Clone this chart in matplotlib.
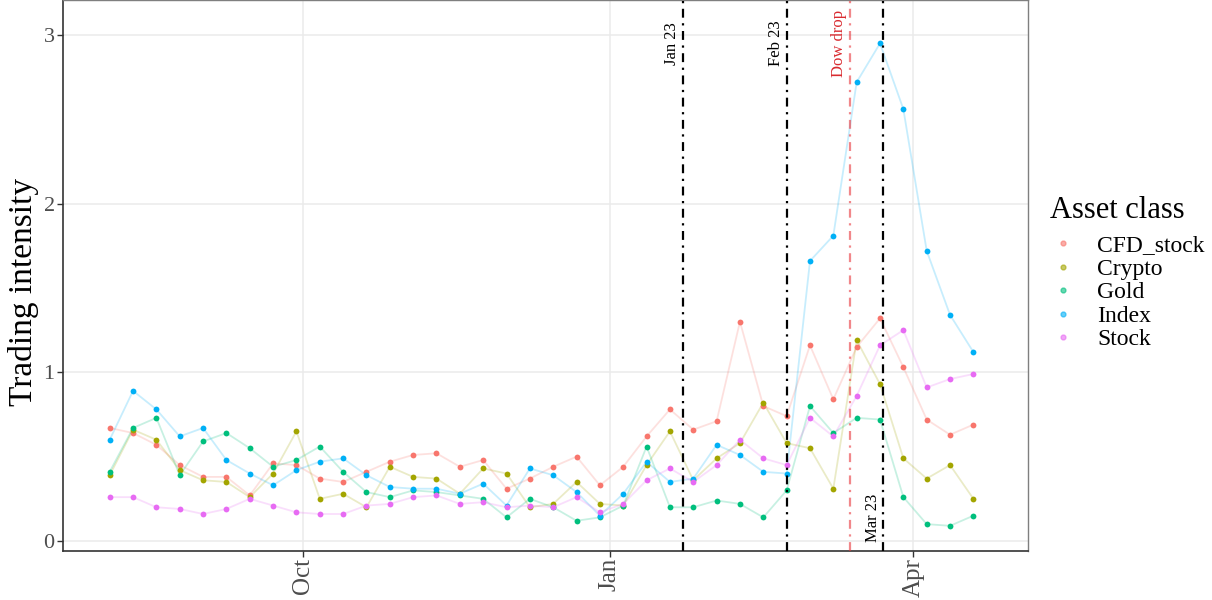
import matplotlib
matplotlib.use("Agg")
import matplotlib.pyplot as plt
from matplotlib.lines import Line2D
import pandas as pd

plt.rcParams['font.family'] = ['Liberation Serif', 'DejaVu Serif']

# ---- data ----
dates = pd.date_range("2019-08-04", periods=38, freq="7D")

cfd_stock = [0.67, 0.64, 0.57, 0.45, 0.38, 0.38, 0.27, 0.46, 0.45, 0.37,
             0.35, 0.41, 0.47, 0.51, 0.52, 0.44, 0.48, 0.31, 0.37, 0.44,
             0.50, 0.33, 0.44, 0.62, 0.78, 0.66, 0.71, 1.30, 0.80, 0.74,
             1.16, 0.84, 1.15, 1.32, 1.03, 0.72, 0.63, 0.69]
crypto = [0.39, 0.66, 0.60, 0.42, 0.36, 0.35, 0.26, 0.40, 0.65, 0.25,
          0.28, 0.20, 0.44, 0.38, 0.37, 0.28, 0.43, 0.40, 0.20, 0.22,
          0.35, 0.22, 0.21, 0.45, 0.65, 0.36, 0.49, 0.58, 0.82, 0.58,
          0.55, 0.31, 1.19, 0.93, 0.49, 0.37, 0.45, 0.25]
gold = [0.41, 0.67, 0.73, 0.39, 0.59, 0.64, 0.55, 0.44, 0.48, 0.56,
        0.41, 0.29, 0.26, 0.30, 0.29, 0.27, 0.25, 0.14, 0.25, 0.20,
        0.12, 0.14, 0.21, 0.56, 0.20, 0.20, 0.24, 0.22, 0.14, 0.30,
        0.80, 0.64, 0.73, 0.72, 0.26, 0.10, 0.09, 0.15]
index = [0.60, 0.89, 0.78, 0.62, 0.67, 0.48, 0.40, 0.33, 0.42, 0.47,
         0.49, 0.39, 0.32, 0.31, 0.31, 0.28, 0.34, 0.21, 0.43, 0.39,
         0.29, 0.15, 0.28, 0.47, 0.35, 0.37, 0.57, 0.51, 0.41, 0.40,
         1.66, 1.81, 2.72, 2.95, 2.56, 1.72, 1.34, 1.12]
stock = [0.26, 0.26, 0.20, 0.19, 0.16, 0.19, 0.25, 0.21, 0.17, 0.16,
         0.16, 0.21, 0.22, 0.26, 0.27, 0.22, 0.23, 0.20, 0.21, 0.20,
         0.26, 0.17, 0.22, 0.36, 0.43, 0.35, 0.45, 0.60, 0.49, 0.45,
         0.73, 0.62, 0.86, 1.16, 1.25, 0.91, 0.96, 0.99]

series_names = ["CFD_stock", "Crypto", "Gold", "Index", "Stock"]
series_values = [cfd_stock, crypto, gold, index, stock]
series_colors = ["#F8766D", "#A3A500", "#00BF7D", "#00B0F6", "#E76BF3"]

event_dates = ["2020-01-23", "2020-02-23", "2020-03-23"]
event_labels = ["Jan 23", "Feb 23", "Mar 23"]
event_label_y = [2.95, 2.95, 0.14]
dow_date = "2020-03-13"
dow_label = "Dow drop"

x_ticks = ["2019-10-01", "2020-01-01", "2020-04-01"]
x_ticklabels = ["Oct", "Jan", "Apr"]
y_ticks = [0, 1, 2, 3]

# ---- figure ----
W, H = 1212, 600
fig = plt.figure(figsize=(W / 100, H / 100), dpi=100)
ax = fig.add_axes([63 / W, (H - 551) / H, (1028 - 63) / W, 551 / H])

for name, vals, col in zip(series_names, series_values, series_colors):
    ax.plot(dates, vals, color=col, alpha=0.22, lw=1.3, zorder=2)
    ax.plot(dates, vals, 'o', color=col, ms=4.2, mew=0, zorder=3)

for d, lab, ly in zip(event_dates, event_labels, event_label_y):
    dt = pd.Timestamp(d)
    ax.axvline(dt, color="black", lw=1.6, ls=(0, (4, 2.5, 1, 2.5)), zorder=4)
    ax.annotate(lab, xy=(dt, ly), xytext=(-2, 0), textcoords="offset points",
                rotation=90, ha="right", va="center", fontsize=12, color="black")

dt = pd.Timestamp(dow_date)
ax.axvline(dt, color="#E8373C", alpha=0.6, lw=1.6, ls=(0, (4, 2.5, 1, 2.5)), zorder=4)
ax.annotate(dow_label, xy=(dt, 2.95), xytext=(-2, 0), textcoords="offset points",
            rotation=90, ha="right", va="center", fontsize=12, color="#D92B30")

ax.set_xlim(pd.Timestamp("2019-07-21"), pd.Timestamp("2020-05-05 09:00"))
ax.set_ylim(-0.0593, 3.207)

ax.set_xticks([pd.Timestamp(t) for t in x_ticks])
ax.set_xticklabels(x_ticklabels, rotation=90, fontsize=18, color="#4D4D4D")
ax.set_yticks(y_ticks)
ax.set_yticklabels([str(v) for v in y_ticks], fontsize=16, color="#4D4D4D")
ax.tick_params(axis="both", length=4, width=1, color="#333333", pad=2)
ax.tick_params(axis="x", pad=1)

ax.grid(True, color="#EBEBEB", lw=1.1, zorder=0)
ax.set_axisbelow(True)
for s in ["left", "bottom"]:
    ax.spines[s].set_color("#333333")
    ax.spines[s].set_linewidth(1.2)
for s in ["right", "top"]:
    ax.spines[s].set_color("#7F7F7F")
    ax.spines[s].set_linewidth(1.0)

fig.text(24 / W, 1 - 292 / H, "Trading intensity", rotation=90,
         ha="center", va="center", fontsize=24)

# legend
fig.text(1050 / W, 1 - 210 / H, "Asset class", ha="left", va="center", fontsize=22)
handles = [Line2D([], [], marker='o', ls='none', color=c, ms=3.5, alpha=0.6)
           for c in series_colors]
leg = fig.legend(handles, series_names,
                 loc="upper left", bbox_to_anchor=(1051 / W, 1 - 235 / H),
                 frameon=False, fontsize=17,
                 handlelength=1.0, handletextpad=0.95, labelspacing=0.08,
                 borderpad=0, borderaxespad=0)

fig.savefig("out.png", dpi=100)
